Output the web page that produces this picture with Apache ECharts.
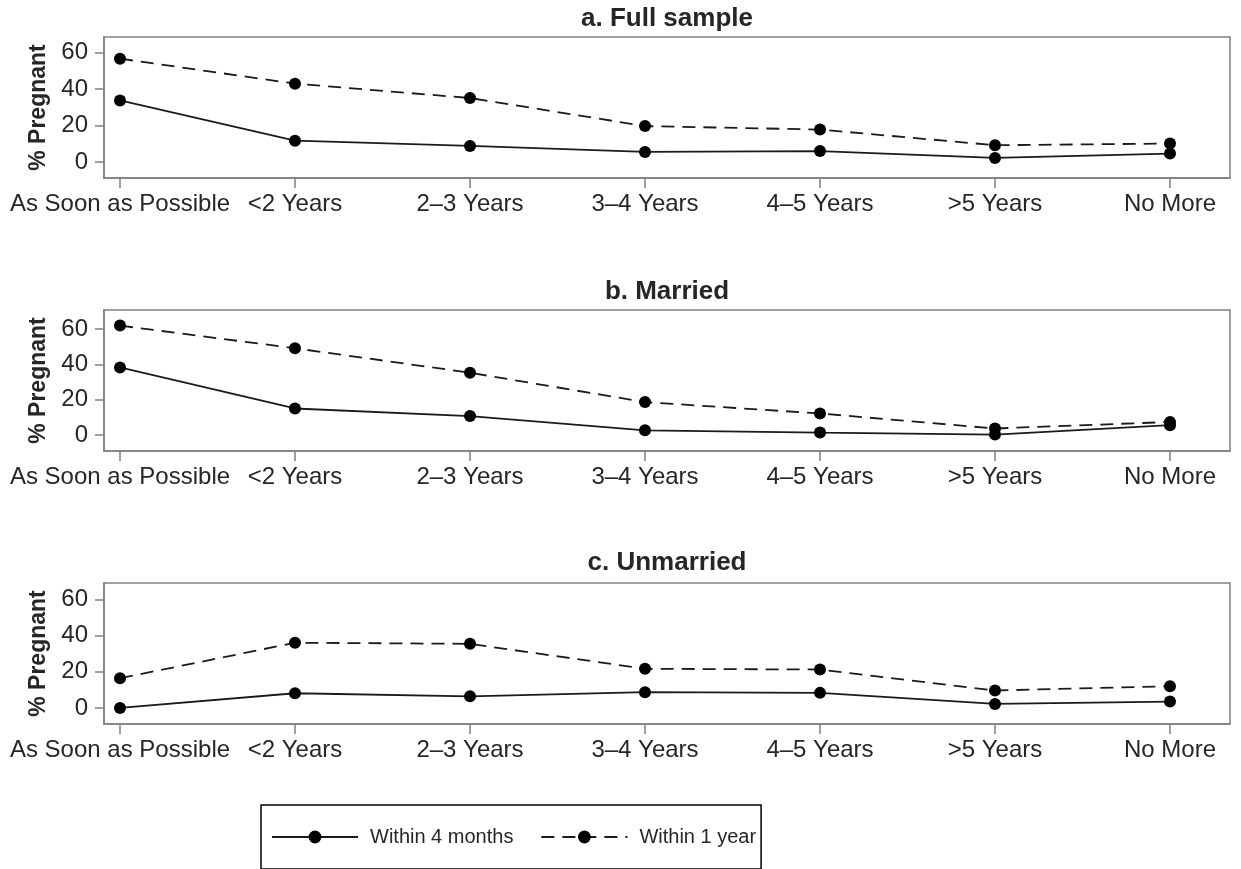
<!DOCTYPE html>
<html>
<head>
<meta charset="utf-8">
<script src="https://cdn.jsdelivr.net/npm/echarts@6/dist/echarts.min.js"></script>
<style>html,body{margin:0;padding:0;background:#fff;}#chart{width:1241px;height:869px;}</style>
</head>
<body>
<div id="chart"></div>
<script>
const categories = ['As Soon as Possible', '<2 Years', '2\u20133 Years', '3\u20134 Years', '4\u20135 Years', '>5 Years', 'No More'];
const panelTitles = ['a. Full sample', 'b. Married', 'c. Unmarried'];
const seriesNames = ['Within 4 months', 'Within 1 year'];
const yTicks = [0, 20, 40, 60];

const fullWithin4Months = [33.8, 11.7, 8.8, 5.5, 6.0, 2.2, 4.6];
const fullWithin1Year = [56.7, 43.0, 35.1, 19.7, 17.8, 9.2, 10.1];
const marriedWithin4Months = [38.3, 15.1, 10.8, 2.8, 1.5, 0.4, 5.7];
const marriedWithin1Year = [61.9, 49.1, 35.3, 18.7, 12.3, 3.8, 7.5];
const unmarriedWithin4Months = [0.0, 8.1, 6.4, 8.7, 8.3, 2.2, 3.5];
const unmarriedWithin1Year = [16.4, 36.0, 35.4, 21.6, 21.2, 9.6, 12.0];

const panels = [
  { title: panelTitles[0], s4: fullWithin4Months, s1: fullWithin1Year, top: 37, titleTop: 6, yMin: -8.8, yMax: 68.6 },
  { title: panelTitles[1], s4: marriedWithin4Months, s1: marriedWithin1Year, top: 310, titleTop: 279, yMin: -8.9, yMax: 70.7 },
  { title: panelTitles[2], s4: unmarriedWithin4Months, s1: unmarriedWithin1Year, top: 583, titleTop: 550, yMin: -8.9, yMax: 69.0 }
];

const FONT = "'Liberation Sans', Arial, Helvetica, sans-serif";
const BOX = '#808080';
const TEXT = '#262626';
const LINE = '#1a1a1a';
const catIdx = categories.map((c, i) => i);

const grid = [], xAxis = [], yAxis = [], series = [], title = [];
panels.forEach((p, k) => {
  grid.push({ left: 104, top: p.top, width: 1126, height: 141, show: true, borderColor: BOX, borderWidth: 1.5, backgroundColor: '#fff' });
  title.push({ text: p.title, left: 667, top: p.titleTop, textAlign: 'center', padding: 0,
    textStyle: { fontFamily: FONT, fontSize: 26, fontWeight: 'bold', color: TEXT } });
  xAxis.push({
    type: 'value', gridIndex: k, min: -16 / 175, max: 6 + 60 / 175,
    axisLine: { show: true, onZero: false, lineStyle: { color: BOX, width: 1.5 } },
    axisTick: { show: true, length: 10, customValues: catIdx, lineStyle: { color: BOX, width: 1.5 } },
    axisLabel: { customValues: catIdx, margin: 14, fontFamily: FONT, fontSize: 24, color: TEXT,
      formatter: v => categories[Math.round(v)] },
    splitLine: { show: false }
  });
  yAxis.push({
    type: 'value', gridIndex: k, min: p.yMin, max: p.yMax,
    name: '% Pregnant', nameLocation: 'middle', nameGap: 54, nameRotate: 90,
    nameTextStyle: { fontFamily: FONT, fontSize: 23, fontWeight: 'bold', color: TEXT },
    axisLine: { show: true, onZero: false, lineStyle: { color: BOX, width: 1.5 } },
    axisTick: { show: true, length: 9, customValues: yTicks, lineStyle: { color: BOX, width: 1.5 } },
    axisLabel: { customValues: yTicks, margin: 16, fontFamily: FONT, fontSize: 24, color: TEXT },
    splitLine: { show: false }
  });
  series.push({
    name: seriesNames[0], type: 'line', xAxisIndex: k, yAxisIndex: k,
    data: p.s4.map((v, i) => [i, v]),
    symbol: 'circle', symbolSize: 12, z: 3,
    lineStyle: { color: LINE, width: 1.8, type: 'solid' },
    itemStyle: { color: '#000' }
  });
  series.push({
    name: seriesNames[1], type: 'line', xAxisIndex: k, yAxisIndex: k,
    data: p.s1.map((v, i) => [i, v]),
    symbol: 'circle', symbolSize: 12, z: 2,
    lineStyle: { color: LINE, width: 1.8, type: [13, 8] },
    itemStyle: { color: '#000' }
  });
});

const chart = echarts.init(document.getElementById('chart'), null, { renderer: 'canvas' });
chart.setOption({
  animation: false,
  backgroundColor: '#fff',
  title: title,
  grid: grid,
  xAxis: xAxis,
  yAxis: yAxis,
  legend: {
    data: seriesNames,
    left: 261, top: 805,
    orient: 'horizontal',
    padding: [22, 5, 22, 10],
    itemWidth: 86, itemHeight: 16, itemGap: 27,
    borderColor: '#000', borderWidth: 1.5,
    selectedMode: false,
    textStyle: { fontFamily: FONT, fontSize: 20, color: TEXT, padding: [0, 0, 0, 7] }
  },
  series: series
});
</script>
</body>
</html>
